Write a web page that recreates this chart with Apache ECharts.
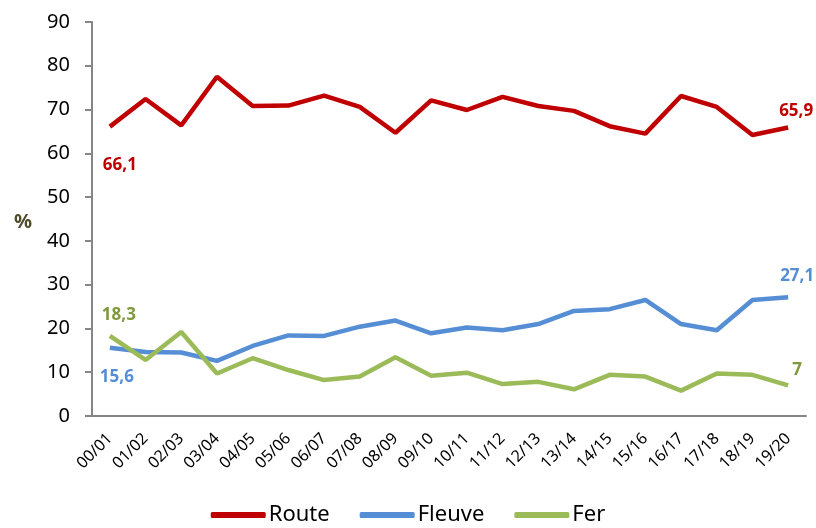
<!DOCTYPE html>
<html>
<head>
<meta charset="utf-8">
<script src="https://cdn.jsdelivr.net/npm/echarts@6/dist/echarts.min.js"></script>
<style>
  html, body { margin: 0; padding: 0; background: #fff; }
  #chart { width: 816px; height: 528px; }
</style>
</head>
<body>
<div id="chart"></div>
<script>
// Parts modales (%) par campagne
var years = ['00/01', '01/02', '02/03', '03/04', '04/05', '05/06', '06/07', '07/08', '08/09', '09/10',
  '10/11', '11/12', '12/13', '13/14', '14/15', '15/16', '16/17', '17/18', '18/19', '19/20'];
var route = [66.1, 72.4, 66.4, 77.5, 70.8, 70.9, 73.2, 70.6, 64.7, 72.1,
  69.9, 72.9, 70.8, 69.7, 66.2, 64.5, 73.1, 70.6, 64.2, 65.9];
var fleuve = [15.6, 14.6, 14.5, 12.6, 16.0, 18.4, 18.3, 20.4, 21.8, 18.9,
  20.2, 19.6, 21.0, 24.0, 24.4, 26.5, 21.0, 19.6, 26.5, 27.1];
var fer = [18.3, 12.8, 19.2, 9.7, 13.2, 10.5, 8.2, 9.0, 13.4, 9.2,
  9.9, 7.3, 7.8, 6.1, 9.4, 9.0, 5.8, 9.7, 9.4, 7];
var yTicks = [0, 10, 20, 30, 40, 50, 60, 70, 80, 90];

var FONT = '"Noto Sans", sans-serif';

function fmt(v) { return String(v).replace('.', ','); }

// étiquettes uniquement sur le premier et le dernier point
function withEnds(values, color, first, last) {
  return values.map(function (v, i) {
    var end = i === 0 ? first : (i === values.length - 1 ? last : null);
    if (!end) { return v; }
    return {
      value: v,
      label: {
        show: true,
        position: end.pos,
        distance: end.dist,
        offset: [end.dx, 0],
        formatter: function (p) { return fmt(p.value); },
        color: color, fontWeight: 'bold', fontSize: 17, fontFamily: FONT
      }
    };
  });
}

var chart = echarts.init(document.getElementById('chart'));
chart.setOption({
  animation: false,
  backgroundColor: '#fff',
  grid: { left: 92, right: 10, top: 22, bottom: 112 },
  legend: {
    bottom: -3, left: 'center',
    itemWidth: 55, itemHeight: 6, itemGap: 30,
    icon: 'roundRect',
    textStyle: { fontSize: 22, color: '#000', fontFamily: FONT, padding: [0, 0, 0, -2] },
    data: ['Route', 'Fleuve', 'Fer']
  },
  graphic: [{
    type: 'text', left: 14, top: 212,
    style: { text: '%', fill: '#4f4a2a', font: 'bold 20px ' + FONT }
  }],
  xAxis: {
    type: 'category',
    data: years,
    boundaryGap: true,
    axisLine: { lineStyle: { color: '#868686', width: 2 } },
    axisTick: { show: false },
    axisLabel: { rotate: 45, fontSize: 16, color: '#000', fontFamily: FONT, margin: 20, interval: 0 }
  },
  yAxis: {
    type: 'value',
    min: yTicks[0], max: yTicks[yTicks.length - 1], interval: 10,
    splitLine: { show: false },
    axisLine: { show: true, lineStyle: { color: '#868686', width: 2 } },
    axisTick: { show: true, length: 7, lineStyle: { color: '#868686', width: 2 } },
    axisLabel: { fontSize: 20, color: '#000', fontFamily: FONT, margin: 22 }
  },
  series: [
    {
      name: 'Route', type: 'line',
      data: withEnds(route, '#c00000', { pos: 'bottom', dist: 30, dx: 10 }, { pos: 'top', dist: 8, dx: 8 }),
      symbol: 'circle', symbolSize: 0, lineStyle: { width: 4.5, color: '#c00000' }, itemStyle: { color: '#c00000' }
    },
    {
      name: 'Fleuve', type: 'line',
      data: withEnds(fleuve, '#558ed5', { pos: 'bottom', dist: 21, dx: 7 }, { pos: 'top', dist: 13, dx: 9 }),
      symbol: 'circle', symbolSize: 0, lineStyle: { width: 4.5, color: '#558ed5' }, itemStyle: { color: '#558ed5' }
    },
    {
      name: 'Fer', type: 'line',
      data: withEnds(fer, '#7f9a3c', { pos: 'top', dist: 12, dx: 9 }, { pos: 'top', dist: 7, dx: 9 }),
      symbol: 'circle', symbolSize: 0, lineStyle: { width: 4.5, color: '#9bbb59' }, itemStyle: { color: '#9bbb59' }
    }
  ]
});
</script>
</body>
</html>
